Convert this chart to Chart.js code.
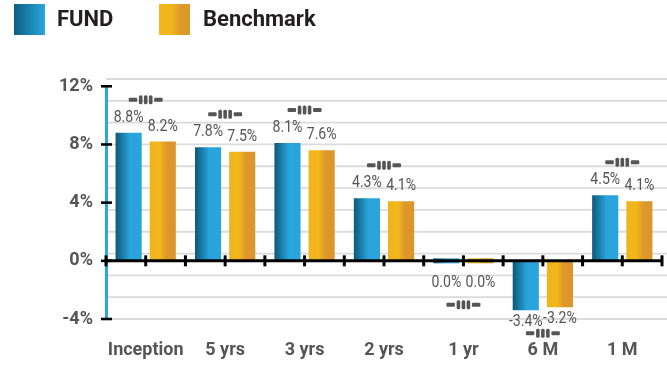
<!DOCTYPE html>
<html>
<head>
<meta charset="utf-8">
<script src="https://cdn.jsdelivr.net/npm/chart.js@4/dist/chart.umd.min.js"></script>
<style>
  body { margin: 0; background: #fff; }
  #area { position: relative; width: 667px; height: 366px; }
  #grafico { position: absolute; left: 0; top: 0; }
  .caixa { position: absolute; top: 4px; width: 31px; height: 31px; }
  .texto {
    position: absolute; top: 3px; line-height: 31px;
    font-family: Roboto, 'Liberation Sans', sans-serif;
    font-weight: bold; font-size: 22px; color: #231f20;
  }
</style>
</head>
<body>
<div id="area">
  <canvas id="grafico" width="667" height="366"></canvas>
  <!-- legenda -->
  <div class="caixa" style="left:14px; background: linear-gradient(90deg, #0b5f82, #2aa6de);"></div>
  <div class="texto" style="left:57px;">FUND</div>
  <div class="caixa" style="left:159px; background: linear-gradient(90deg, #f3b81a 0%, #f1b51d 40%, #de992a 72%, #dc962b 100%);"></div>
  <div class="texto" style="left:203px;">Benchmark</div>
</div>

<script>
// Dados do gráfico
const categorias = ['Inception', '5 yrs', '3 yrs', '2 yrs', '1 yr', '6 M', '1 M'];
const fund = [8.8, 7.8, 8.1, 4.3, 0.0, -3.4, 4.5];
const benchmark = [8.2, 7.5, 7.6, 4.1, 0.0, -3.2, 4.1];
const rotulosY = [-4, 0, 4, 8, 12];
const linhasGrade = [-4, -2.5, -1, 0.5, 2, 3.5, 5, 6.5, 8, 9.5, 11, 12.5];

const fonte = "Roboto, 'Liberation Sans', sans-serif";

// cores em degradê de cada série (da esquerda para a direita da barra)
const gradientes = [
  [[0, '#0c5878'], [0.55, '#2aa4dc'], [1, '#2aa4dc']],
  [[0, '#efb31e'], [0.38, '#f2b81b'], [0.65, '#dd972b'], [1, '#dc952c']]
];

// Desenha o símbolo "-III-" que fica acima/abaixo de cada grupo
function desenharSimbolo(ctx, cx, cy)
{
  ctx.fillStyle = '#555';
  ctx.beginPath();
  ctx.roundRect(cx - 17, cy - 2, 8.5, 4, 1);
  ctx.roundRect(cx + 8.5, cy - 2, 8.5, 4, 1);
  ctx.fill();
  [-5, 0, 5].forEach(dx => {
    ctx.beginPath();
    ctx.roundRect(cx + dx - 1.8, cy - 4.5, 3.6, 9, 1.5);
    ctx.fill();
  });
}

// Plugin com grade, eixos, rótulos dos valores e símbolos
const decoracao = {
  id: 'decoracao',
  beforeDatasetsDraw(chart) {
    const { ctx, chartArea, scales: { x, y } } = chart;
    ctx.save();

    // linhas de grade (vão até a borda direita)
    ctx.strokeStyle = '#dbdbdb';
    ctx.lineWidth = 1.8;
    linhasGrade.forEach(v => {
      const py = y.getPixelForValue(v);
      ctx.beginPath();
      ctx.moveTo(chartArea.left, py);
      ctx.lineTo(chart.width, py);
      ctx.stroke();
    });

    // linha azul do eixo Y
    ctx.strokeStyle = '#29a8e0';
    ctx.lineWidth = 3;
    ctx.beginPath();
    ctx.moveTo(chartArea.left + 0.5, y.getPixelForValue(Math.max(...rotulosY)));
    ctx.lineTo(chartArea.left + 0.5, y.getPixelForValue(Math.min(...rotulosY)));
    ctx.stroke();
    ctx.restore();

    // degradê horizontal em cada barra
    chart.data.datasets.forEach((ds, i) => {
      chart.getDatasetMeta(i).data.forEach(barra => {
        const g = ctx.createLinearGradient(barra.x - barra.width / 2, 0, barra.x + barra.width / 2, 0);
        gradientes[i].forEach(([p, c]) => g.addColorStop(p, c));
        barra.options = Object.assign({}, barra.options, { backgroundColor: g });
      });
    });
  },
  afterDatasetsDraw(chart) {
    const { ctx, chartArea, scales: { x, y } } = chart;
    const y0 = y.getPixelForValue(0);
    ctx.save();

    // linha do zero com marquinhas
    ctx.strokeStyle = '#000';
    ctx.lineWidth = 3;
    ctx.beginPath();
    ctx.moveTo(chartArea.left, y0);
    ctx.lineTo(chartArea.right, y0);
    ctx.stroke();
    for (let k = 0; k <= categorias.length * 2; k++) {
      const px = x.getPixelForValue(-0.5 + k * 0.5);
      ctx.beginPath();
      ctx.moveTo(px, y0 - 5.5);
      ctx.lineTo(px, y0 + 5.5);
      ctx.stroke();
    }

    // marquinhas do eixo Y
    ctx.lineWidth = 2.6;
    rotulosY.forEach(v => {
      const py = y.getPixelForValue(v);
      ctx.beginPath();
      ctx.moveTo(chartArea.left - 5, py);
      ctx.lineTo(chartArea.left + 6, py);
      ctx.stroke();
    });

    // valores sobre/sob as barras (fonte um pouco estreitada)
    ctx.font = '16px ' + fonte;
    ctx.fillStyle = '#555';
    ctx.textAlign = 'center';
    ctx.textBaseline = 'middle';
    const aperto = 0.88;
    chart.data.datasets.forEach((ds, i) => {
      chart.getDatasetMeta(i).data.forEach((barra, j) => {
        const valor = ds.data[j];
        const texto = valor.toFixed(1) + '%';
        const ty = valor > 0 ? barra.y - 15 : Math.max(barra.y + 12, y0 + 22);
        ctx.save();
        ctx.translate(barra.x, ty);
        ctx.scale(aperto, 1);
        ctx.fillText(texto, 0, 0);
        ctx.restore();
      });
    });

    // símbolo de cada grupo
    categorias.forEach((cat, j) => {
      const barras = chart.data.datasets.map((ds, i) => chart.getDatasetMeta(i).data[j]);
      const valores = chart.data.datasets.map(ds => ds.data[j]);
      const cx = x.getPixelForValue(j);
      let cy;
      if (Math.max(...valores) > 0) {
        cy = Math.min(...barras.map(b => b.y)) - 33;
      } else {
        cy = Math.max(Math.max(...barras.map(b => b.y)) + 23, y0 + 44);
      }
      desenharSimbolo(ctx, cx, cy);
    });

    ctx.restore();
  }
};

const grafico = new Chart(document.getElementById('grafico'), {
  type: 'bar',
  data: {
    labels: categorias,
    datasets: [
      { label: 'FUND', data: fund, backgroundColor: () => '#2aa4dc' },
      { label: 'Benchmark', data: benchmark, backgroundColor: () => '#f0b41e' }
    ]
  },
  options: {
    responsive: false,
    animation: false,
    layout: { padding: { top: 79, right: 5, left: 0, bottom: 0 } },
    datasets: {
      bar: {
        categoryPercentage: 0.86,
        barPercentage: 0.765,
        minBarLength: 5,
        borderWidth: 0
      }
    },
    plugins: {
      legend: { display: false },
      tooltip: { enabled: false }
    },
    scales: {
      x: {
        grid: { display: false, drawTicks: false },
        border: { display: false },
        ticks: {
          padding: 21,
          maxRotation: 0,
          minRotation: 0,
          autoSkip: false,
          color: '#555',
          font: { family: fonte, size: 18, weight: 'bold' }
        },
        afterFit: (eixo) => { eixo.height = 47; }
      },
      y: {
        min: -4,
        max: 12.5,
        grid: { display: false, drawTicks: false },
        border: { display: false },
        afterBuildTicks: (eixo) => {
          eixo.ticks = rotulosY.map(v => ({ value: v }));
        },
        ticks: {
          autoSkip: false,
          padding: 13,
          color: '#555',
          font: { family: fonte, size: 18, weight: 'bold' },
          callback: (v) => v + '%'
        },
        afterFit: (eixo) => { eixo.width = 106; }
      }
    }
  },
  plugins: [decoracao]
});
</script>
</body>
</html>
